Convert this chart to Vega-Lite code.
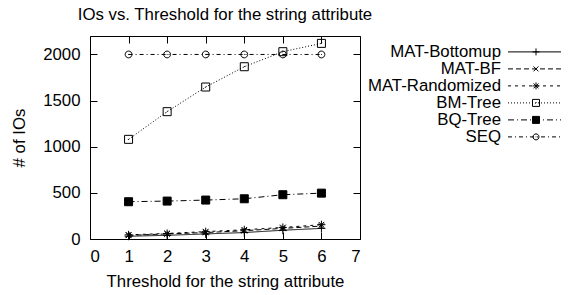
{
  "$schema": "https://vega.github.io/schema/vega-lite/v6.json",
  "padding": {"left": 11, "top": 6, "right": 0, "bottom": 0},
  "config": {
    "font": "Liberation Sans",
    "view": {"stroke": null},
    "axis": {
      "domainColor": "black", "tickColor": "black", "labelColor": "black", "titleColor": "black",
      "labelFontSize": 16.8, "titleFontSize": 16.8, "titleFontWeight": "normal",
      "grid": false, "tickSize": -7, "labelPadding": 17, "domainWidth": 1, "tickWidth": 1
    }
  },
  "datasets": {
    "main": [
      {"series": "MAT-Bottomup", "threshold": 1, "ios": 30},
      {"series": "MAT-Bottomup", "threshold": 2, "ios": 40},
      {"series": "MAT-Bottomup", "threshold": 3, "ios": 55},
      {"series": "MAT-Bottomup", "threshold": 4, "ios": 70},
      {"series": "MAT-Bottomup", "threshold": 5, "ios": 95},
      {"series": "MAT-Bottomup", "threshold": 6, "ios": 115},
      {"series": "MAT-BF", "threshold": 1, "ios": 40},
      {"series": "MAT-BF", "threshold": 2, "ios": 55},
      {"series": "MAT-BF", "threshold": 3, "ios": 70},
      {"series": "MAT-BF", "threshold": 4, "ios": 90},
      {"series": "MAT-BF", "threshold": 5, "ios": 115},
      {"series": "MAT-BF", "threshold": 6, "ios": 140},
      {"series": "MAT-Randomized", "threshold": 1, "ios": 45},
      {"series": "MAT-Randomized", "threshold": 2, "ios": 60},
      {"series": "MAT-Randomized", "threshold": 3, "ios": 80},
      {"series": "MAT-Randomized", "threshold": 4, "ios": 100},
      {"series": "MAT-Randomized", "threshold": 5, "ios": 125},
      {"series": "MAT-Randomized", "threshold": 6, "ios": 155},
      {"series": "BM-Tree", "threshold": 1, "ios": 1080},
      {"series": "BM-Tree", "threshold": 2, "ios": 1380},
      {"series": "BM-Tree", "threshold": 3, "ios": 1647},
      {"series": "BM-Tree", "threshold": 4, "ios": 1867},
      {"series": "BM-Tree", "threshold": 5, "ios": 2030},
      {"series": "BM-Tree", "threshold": 6, "ios": 2120},
      {"series": "BQ-Tree", "threshold": 1, "ios": 404},
      {"series": "BQ-Tree", "threshold": 2, "ios": 411},
      {"series": "BQ-Tree", "threshold": 3, "ios": 422},
      {"series": "BQ-Tree", "threshold": 4, "ios": 436},
      {"series": "BQ-Tree", "threshold": 5, "ios": 480},
      {"series": "BQ-Tree", "threshold": 6, "ios": 497},
      {"series": "SEQ", "threshold": 1, "ios": 2000},
      {"series": "SEQ", "threshold": 2, "ios": 2000},
      {"series": "SEQ", "threshold": 3, "ios": 2000},
      {"series": "SEQ", "threshold": 4, "ios": 2000},
      {"series": "SEQ", "threshold": 5, "ios": 2000},
      {"series": "SEQ", "threshold": 6, "ios": 2000}
    ],
    "legend": [
      {"series": "MAT-Bottomup", "rank": 1},
      {"series": "MAT-BF", "rank": 2},
      {"series": "MAT-Randomized", "rank": 3},
      {"series": "BM-Tree", "rank": 4},
      {"series": "BQ-Tree", "rank": 5},
      {"series": "SEQ", "rank": 6}
    ]
  },
  "spacing": 10,
  "bounds": "flush",
  "hconcat": [
    {
      "width": 270,
      "height": 203,
      "title": {"text": "IOs vs. Threshold for the string attribute", "frame": "group", "fontSize": 16.8, "fontWeight": "normal", "offset": 12, "color": "black"},
      "data": {"name": "main"},
      "layer": [
        {
          "mark": {"type": "line", "color": "black", "strokeWidth": 1},
          "encoding": {
            "x": {"field": "threshold", "type": "quantitative", "scale": {"domain": [0, 7], "nice": false},
                  "axis": {"orient": "bottom", "title": "Threshold for the string attribute", "values": [0, 1, 2, 3, 4, 5, 6, 7], "labelPadding": 16, "titlePadding": 9}},
            "y": {"field": "ios", "type": "quantitative", "scale": {"domain": [0, 2200], "nice": false},
                  "axis": {"orient": "left", "title": "# of IOs", "format": "d", "values": [0, 500, 1000, 1500, 2000], "titlePadding": 14}},
            "strokeDash": {"field": "series", "type": "nominal",
              "scale": {"domain": ["MAT-Bottomup", "MAT-BF", "MAT-Randomized", "BM-Tree", "BQ-Tree", "SEQ"],
                        "range": [[1, 0], [5, 3], [3, 4], [1, 2], [6, 3, 1, 3], [4, 3, 1, 3]]},
              "legend": null}
          }
        },
        {
          "mark": {"type": "point", "stroke": "black", "strokeWidth": 1, "opacity": 1, "size": 64},
          "encoding": {
            "x": {"field": "threshold", "type": "quantitative", "axis": null},
            "y": {"field": "ios", "type": "quantitative", "axis": null},
            "shape": {"field": "series", "type": "nominal",
              "scale": {"domain": ["MAT-Bottomup", "MAT-BF", "MAT-Randomized", "BM-Tree", "BQ-Tree", "SEQ"],
                        "range": ["M-1,0L1,0M0,-1L0,1", "M-0.7,-0.7L0.7,0.7M-0.7,0.7L0.7,-0.7", "M-1,0L1,0M0,-1L0,1M-0.7,-0.7L0.7,0.7M-0.7,0.7L0.7,-0.7", "M-1,-1L1,-1L1,1L-1,1Z M-0.15,0.15L0.15,-0.15", "square", "M0.85,0A0.85,0.85,0,1,1,-0.85,0A0.85,0.85,0,1,1,0.85,0Z M-0.1,0L0.1,0"]},
              "legend": null},
            "fill": {"field": "series", "type": "nominal",
              "scale": {"domain": ["MAT-Bottomup", "MAT-BF", "MAT-Randomized", "BM-Tree", "BQ-Tree", "SEQ"],
                        "range": ["transparent", "transparent", "transparent", "transparent", "black", "transparent"]},
              "legend": null}
          }
        },
        {
          "mark": {"type": "point", "opacity": 0},
          "encoding": {
            "x": {"field": "threshold", "type": "quantitative", "axis": {"orient": "top", "labels": false, "title": null, "values": [0, 1, 2, 3, 4, 5, 6, 7]}},
            "y": {"field": "ios", "type": "quantitative", "axis": {"orient": "right", "labels": false, "title": null, "values": [0, 500, 1000, 1500, 2000]}}
          }
        }
      ],
      "resolve": {"axis": {"x": "independent", "y": "independent"}}
    },
    {
      "width": 196,
      "height": 203,
      "data": {"name": "legend"},
      "layer": [
        {
          "mark": {"type": "text", "align": "right", "baseline": "middle", "fontSize": 16.8, "color": "black"},
          "encoding": {
            "x": {"datum": 131, "type": "quantitative", "scale": {"domain": [0, 196], "nice": false, "zero": false}, "axis": null},
            "y": {"field": "rank", "type": "quantitative", "scale": {"domain": [12.006, 0.065], "nice": false, "zero": false}, "axis": null},
            "text": {"field": "series"}
          }
        },
        {
          "mark": {"type": "rule", "color": "black", "strokeWidth": 1},
          "encoding": {
            "x": {"datum": 138, "type": "quantitative"},
            "x2": {"datum": 191},
            "y": {"field": "rank", "type": "quantitative"},
            "strokeDash": {"field": "series", "type": "nominal", "legend": null}
          }
        },
        {
          "mark": {"type": "point", "stroke": "black", "strokeWidth": 1, "opacity": 1, "size": 49},
          "encoding": {
            "x": {"datum": 166, "type": "quantitative"},
            "y": {"field": "rank", "type": "quantitative"},
            "shape": {"field": "series", "type": "nominal", "legend": null},
            "fill": {"field": "series", "type": "nominal", "legend": null}
          }
        }
      ]
    }
  ]
}
